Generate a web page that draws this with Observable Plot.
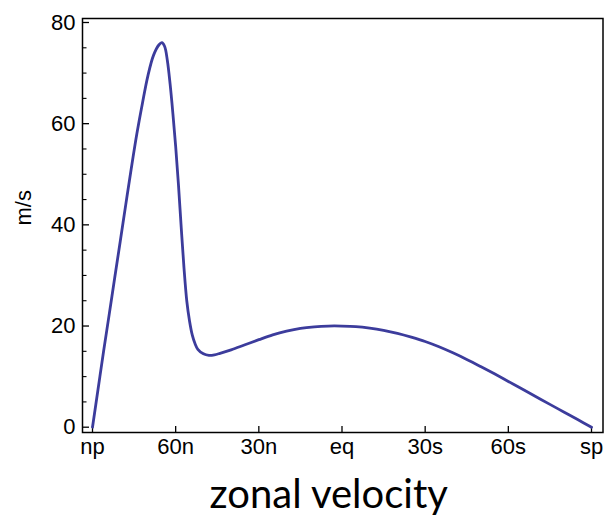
<!DOCTYPE html>
<html>
<head>
<meta charset="utf-8">
<script src="https://cdn.jsdelivr.net/npm/d3@7"></script>
<script src="https://cdn.jsdelivr.net/npm/@observablehq/plot@0.6"></script>
<style>
  html, body { margin: 0; padding: 0; background: #fff; }
</style>
</head>
<body>
<div id="chart"></div>
<script>
// Latitude (degrees, north positive) and zonal velocity (m/s)
const latitude = [90, 88, 86, 84, 82, 80, 78, 76, 74, 72, 70, 68, 66, 65, 64, 63, 62, 61, 60, 59, 58, 57, 56, 55, 54, 53, 52, 50, 48, 46, 44, 40, 35, 30, 25, 20, 15, 10, 5, 0, -5, -10, -15, -20, -25, -30, -35, -40, -45, -50, -55, -60, -65, -70, -75, -80, -85, -90];
const velocity = [0, 7.5, 15, 22.2, 29.5, 36.7, 44, 51.2, 58, 64, 69.5, 73.5, 75.6, 76, 75.3, 72.5, 67.8, 62, 55.5, 48, 39.5, 31.5, 25, 21, 18.2, 16.5, 15.4, 14.5, 14.2, 14.3, 14.6, 15.3, 16.3, 17.3, 18.25, 19.0, 19.55, 19.85, 20, 20, 19.9, 19.6, 19.15, 18.55, 17.8, 16.95, 15.9, 14.7, 13.4, 12.0, 10.55, 9.05, 7.55, 6.03, 4.51, 3.01, 1.51, 0];

const xTicks = [90, 60, 30, 0, -30, -60, -90];
const xTickLabels = ["np", "60n", "30n", "eq", "30s", "60s", "sp"];
const yMajorTicks = [0, 20, 40, 60, 80];
const yMinorTicks = [5, 10, 15, 25, 30, 35, 45, 50, 55, 65, 70, 75];
const yLabel = "m/s";
const title = "zonal velocity";

const data = latitude.map((lat, i) => ({lat, u: velocity[i]}));
const labelOf = new Map(xTicks.map((t, i) => [t, xTickLabels[i]]));

const chart = Plot.plot({
  width: 605,
  height: 518,
  marginLeft: 82,
  marginRight: 2.5,
  marginTop: 18,
  marginBottom: 86,
  style: {fontFamily: "'Liberation Sans', Arial, Helvetica, sans-serif", background: "#fff", color: "#000"},
  x: {domain: [90, -90], range: [92, 591]},
  y: {domain: [0, 80], range: [426.7, 22]},
  marks: [
    Plot.frame({stroke: "#000", strokeWidth: 1.5}),
    // tick labels
    Plot.axisX({ticks: xTicks, tickFormat: d => labelOf.get(d), tickSize: 0, tickPadding: 6, fontSize: 22, label: null}),
    Plot.axisY({ticks: yMajorTicks, tickSize: 0, tickPadding: 7, fontSize: 22, label: null}),
    // inward ticks
    Plot.axisX({ticks: xTicks, text: null, tickSize: -6, strokeWidth: 1.3, label: null}),
    Plot.axisY({ticks: yMajorTicks, text: null, tickSize: -7, strokeWidth: 1.3, label: null}),
    Plot.axisY({ticks: yMinorTicks, text: null, tickSize: -4.5, strokeWidth: 1.1, label: null}),
    // curve
    Plot.line(data, {x: "lat", y: "u", stroke: "#3c3c9c", strokeWidth: 2.8, curve: "catmull-rom"}),
    // axis label
    Plot.text([yLabel], {frameAnchor: "left", text: d => d, rotate: -90, dx: -59, fontSize: 22, lineAnchor: "middle"}),
    // title
    Plot.text([title], {frameAnchor: "bottom", text: d => d, dx: -14, dy: 63, fontSize: 40, lineAnchor: "middle", fontFamily: "Lato, 'Open Sans', sans-serif"})
  ]
});
document.getElementById("chart").appendChild(chart);
</script>
</body>
</html>
